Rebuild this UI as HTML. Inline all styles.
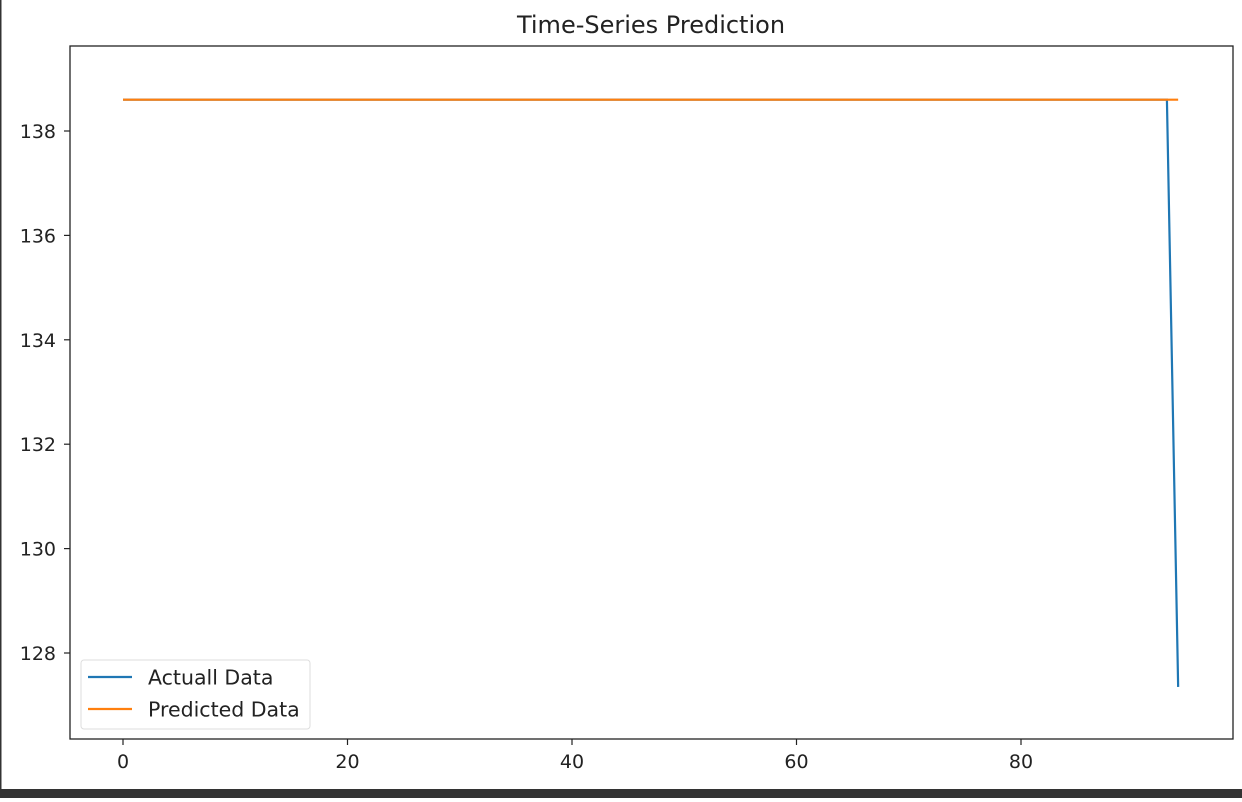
<!DOCTYPE html>
<html><head><meta charset="utf-8"><style>
body{margin:0;background:#fff;width:1242px;height:798px;overflow:hidden;font-family:"DejaVu Sans","Liberation Sans",sans-serif}
svg text{font-family:"DejaVu Sans","Liberation Sans",sans-serif;fill:#222}
</style></head><body>
<svg id="chart" width="1242" height="798">
<rect x="0" y="0" width="1.5" height="798" fill="#333"/>
<rect x="0" y="789" width="1242" height="9" fill="#333"/>
<text x="651" y="33" font-size="24" text-anchor="middle">Time-Series Prediction</text>
<g id="ticks"></g>
<g id="lines"></g>
<rect x="70" y="46" width="1163" height="693" fill="none" stroke="#222" stroke-width="1.3"/>
<g>
<rect x="81" y="660" width="229" height="69" rx="3" fill="#fff" fill-opacity="0.8" stroke="#ddd"/>
<line x1="88" y1="677" x2="132" y2="677" stroke="#1f77b4" stroke-width="2.2"/>
<text x="148" y="684.5" font-size="20.5">Actuall Data</text>
<line x1="88" y1="709" x2="132" y2="709" stroke="#ff7f0e" stroke-width="2.2"/>
<text x="148" y="716.5" font-size="20.5">Predicted Data</text>
</g>
</svg>
<script>
const xTicks=[0,20,40,60,80];
const yTicks=[128,130,132,134,136,138];
const actual=[138.6,138.6,138.6,138.6,138.6,138.6,138.6,138.6,138.6,138.6,138.6,138.6,138.6,138.6,138.6,138.6,138.6,138.6,138.6,138.6,138.6,138.6,138.6,138.6,138.6,138.6,138.6,138.6,138.6,138.6,138.6,138.6,138.6,138.6,138.6,138.6,138.6,138.6,138.6,138.6,138.6,138.6,138.6,138.6,138.6,138.6,138.6,138.6,138.6,138.6,138.6,138.6,138.6,138.6,138.6,138.6,138.6,138.6,138.6,138.6,138.6,138.6,138.6,138.6,138.6,138.6,138.6,138.6,138.6,138.6,138.6,138.6,138.6,138.6,138.6,138.6,138.6,138.6,138.6,138.6,138.6,138.6,138.6,138.6,138.6,138.6,138.6,138.6,138.6,138.6,138.6,138.6,138.6,138.6,127.35];
const predicted=[138.6,138.6,138.6,138.6,138.6,138.6,138.6,138.6,138.6,138.6,138.6,138.6,138.6,138.6,138.6,138.6,138.6,138.6,138.6,138.6,138.6,138.6,138.6,138.6,138.6,138.6,138.6,138.6,138.6,138.6,138.6,138.6,138.6,138.6,138.6,138.6,138.6,138.6,138.6,138.6,138.6,138.6,138.6,138.6,138.6,138.6,138.6,138.6,138.6,138.6,138.6,138.6,138.6,138.6,138.6,138.6,138.6,138.6,138.6,138.6,138.6,138.6,138.6,138.6,138.6,138.6,138.6,138.6,138.6,138.6,138.6,138.6,138.6,138.6,138.6,138.6,138.6,138.6,138.6,138.6,138.6,138.6,138.6,138.6,138.6,138.6,138.6,138.6,138.6,138.6,138.6,138.6,138.6,138.6,138.6];
const NS='http://www.w3.org/2000/svg';
const X=v=>123+v*(1021-123)/80;
const Y=v=>653-(v-128)*(653-131)/10;
function mk(tag,at,parent){const e=document.createElementNS(NS,tag);for(const k in at)e.setAttribute(k,at[k]);parent.appendChild(e);return e;}
const tg=document.getElementById('ticks');
xTicks.forEach(t=>{
 const l=mk('line',{x1:X(t),x2:X(t),y1:739,y2:745,stroke:'#222','stroke-width':1.2},tg);
 
 
 const s=mk('text',{x:X(t),y:768,'font-size':19,'text-anchor':'middle'},tg);s.textContent=t;
 
 
});
yTicks.forEach(t=>{
 const l=mk('line',{x1:64,x2:70,y1:Y(t),y2:Y(t),stroke:'#222','stroke-width':1.2},tg);
 
 
 const s=mk('text',{x:56,y:Y(t)+7,'font-size':19,'text-anchor':'end'},tg);s.textContent=t;
 
 
});
const lg=document.getElementById('lines');
function path(arr,color,name){
 const d=arr.map((v,i)=>(i?'L':'M')+X(i).toFixed(2)+','+Y(v).toFixed(2)).join('');
 const p=mk('path',{d:d,fill:'none',stroke:color,'stroke-width':2.2},lg);
 
 
}
path(actual,'#1f77b4','actual-data-line');
path(predicted,'#ff7f0e','predicted-data-line');
</script>
</body></html>
